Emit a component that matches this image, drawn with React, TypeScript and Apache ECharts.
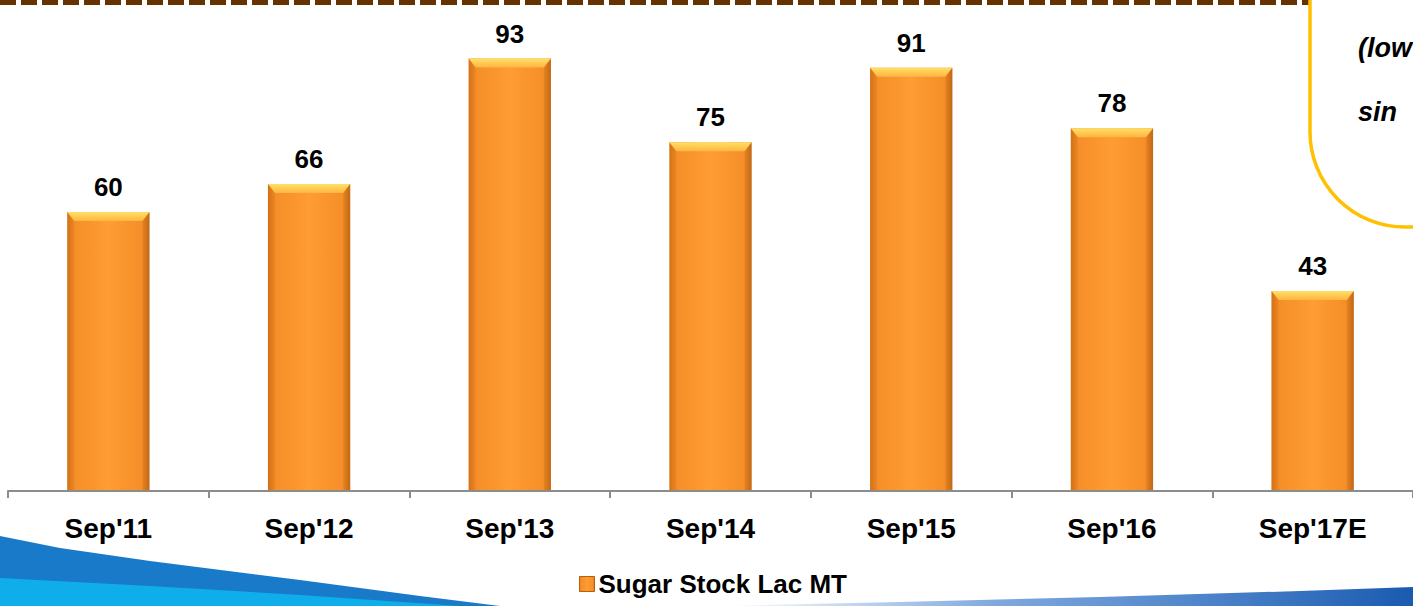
import React, { useEffect, useRef } from "react";
import * as echarts from "echarts";

const categories = ["Sep'11", "Sep'12", "Sep'13", "Sep'14", "Sep'15", "Sep'16", "Sep'17E"];
const stockValues = [60, 66, 93, 75, 91, 78, 43];
const seriesName = "Sugar Stock Lac MT";
const calloutLines = ["(low", "sin"];

const FONT = "Arial, 'Liberation Sans', sans-serif";

export default function App() {
  const ref = useRef<HTMLDivElement>(null);
  useEffect(() => {
    if (!ref.current) return;
    const chart = echarts.init(ref.current, null, { renderer: "svg" });
    const barFill = new echarts.graphic.LinearGradient(0, 0, 1, 0, [
      { offset: 0, color: "#D9761A" },
      { offset: 0.08, color: "#F58E28" },
      { offset: 0.5, color: "#FF9C33" },
      { offset: 0.92, color: "#F58E28" },
      { offset: 1, color: "#C96D18" },
    ]);
    const option: any = {
      animation: false,
      grid: { left: 8, top: 26, width: 1407, height: 465 },
      xAxis: {
        type: "category",
        data: categories,
        z: 4,
        axisLine: { lineStyle: { color: "#8C8C8C", width: 2 } },
        axisTick: { show: true, length: 7, lineStyle: { color: "#8C8C8C", width: 2 } },
        axisLabel: { color: "#000", fontSize: 28, fontWeight: "bold", fontFamily: FONT, margin: 23 },
      },
      yAxis: { type: "value", min: 0, max: 100, show: false, splitLine: { show: false } },
      legend: {
        data: [seriesName],
        left: 574,
        top: 566,
        itemWidth: 15,
        itemHeight: 15,
        itemGap: 5,
        icon: "rect",
        itemStyle: { borderColor: "#B85E10", borderWidth: 1 },
        textStyle: { color: "#000", fontSize: 26, fontWeight: "bold", fontFamily: FONT, padding: [0, 0, 0, -1] },
      },
      series: [
        {
          name: seriesName,
          type: "bar",
          data: stockValues,
          barWidth: "41%",
          itemStyle: { color: barFill },
          label: {
            show: true,
            position: "top",
            distance: 12,
            color: "#000",
            fontSize: 26,
            fontWeight: "bold",
            fontFamily: FONT,
          },
          z: 2,
        },
        {
          name: "bevel",
          type: "custom",
          data: stockValues.map((v, i) => [i, v]),
          z: 3,
          silent: true,
          renderItem: (params: any, api: any) => {
            const i = api.value(0);
            const v = api.value(1);
            const top = api.coord([i, v]);
            const base = api.coord([i, 0]);
            const w = api.size([1, 0])[0] * 0.41;
            const x0 = top[0] - w / 2;
            const x1 = x0 + w;
            const y0 = top[1];
            const y1 = base[1];
            const b = 7;
            return {
              type: "group",
              children: [
                {
                  type: "polygon",
                  shape: { points: [[x0, y0], [x1, y0], [x1 - b, y0 + b + 2], [x0 + b, y0 + b + 2]] },
                  style: {
                    fill: new echarts.graphic.LinearGradient(0, 0, 0, 1, [
                      { offset: 0, color: "#FFE066" },
                      { offset: 1, color: "#FFB540" },
                    ]),
                  },
                },
                {
                  type: "polygon",
                  shape: { points: [[x0, y0], [x0 + b, y0 + b + 2], [x0 + b, y1], [x0, y1]] },
                  style: { fill: "rgba(190,95,10,0.18)" },
                },
                {
                  type: "polygon",
                  shape: { points: [[x1, y0], [x1 - b, y0 + b + 2], [x1 - b, y1], [x1, y1]] },
                  style: { fill: "rgba(170,85,10,0.22)" },
                },
              ],
            };
          },
        },
      ],
      graphic: [
        {
          type: "line",
          z: 1,
          shape: { x1: 0, y1: 2.5, x2: 1312, y2: 2.5 },
          style: { stroke: "#663300", lineWidth: 5, lineDash: [16, 5] },
        },
        {
          type: "rect",
          z: 5,
          shape: { x: 1310, y: -60, width: 220, height: 287, r: [0, 0, 0, 95] },
          style: { fill: "#FFFFFF", stroke: "#FFC000", lineWidth: 3.5 },
        },
        {
          type: "text",
          z: 6,
          x: 1358,
          y: 48,
          style: {
            text: calloutLines[0],
            fill: "#000",
            font: `italic bold 27px ${FONT}`,
            verticalAlign: "middle",
          },
        },
        {
          type: "text",
          z: 6,
          x: 1358,
          y: 112,
          style: {
            text: calloutLines[1],
            fill: "#000",
            font: `italic bold 27px ${FONT}`,
            verticalAlign: "middle",
          },
        },
        {
          type: "polygon",
          z: -1,
          shape: {
            points: [[0, 536], [60, 548], [150, 561], [300, 580], [420, 596], [500, 606], [0, 606]],
          },
          style: { fill: "#1A7ACA" },
        },
        {
          type: "polygon",
          z: -1,
          shape: {
            points: [[0, 578], [150, 586], [300, 595], [460, 606], [0, 606]],
          },
          style: { fill: "#0FAEEB" },
        },
        {
          type: "polygon",
          z: -1,
          shape: {
            points: [[720, 606], [900, 602], [1100, 597], [1300, 591], [1413, 587], [1413, 606]],
          },
          style: {
            fill: new echarts.graphic.LinearGradient(0, 0, 1, 0, [
              { offset: 0, color: "rgba(40,110,200,0)" },
              { offset: 0.4, color: "rgba(40,110,200,0.6)" },
              { offset: 1, color: "#1A5BB0" },
            ]),
          },
        },
      ],
    };
    chart.setOption(option);
    return () => chart.dispose();
  }, []);
  return (
    <div
      ref={ref}
      style={{ position: "fixed", left: 0, top: 0, width: 1413, height: 606, background: "#fff" }}
    />
  );
}
